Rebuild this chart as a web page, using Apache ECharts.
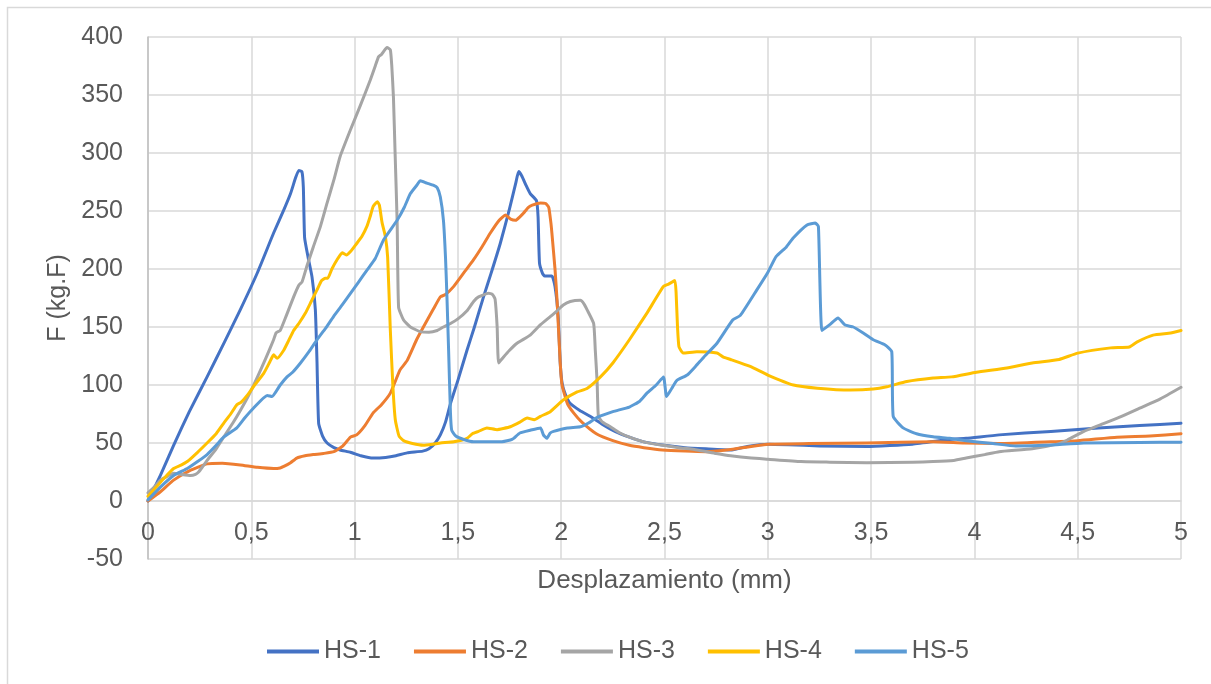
<!DOCTYPE html>
<html>
<head>
<meta charset="utf-8">
<script src="https://cdn.jsdelivr.net/npm/echarts@6/dist/echarts.min.js"></script>
<style>
  html, body { margin: 0; padding: 0; background: #fff; }
  #chart { width: 1211px; height: 684px; }
</style>
</head>
<body>
<div id="chart"></div>
<script>
// Load–displacement curves of five specimens: [displacement (mm), force (kg.F)]
const seriesNames = ['HS-1', 'HS-2', 'HS-3', 'HS-4', 'HS-5'];
const seriesColors = ['#4472C4', '#ED7D31', '#A5A5A5', '#FFC000', '#5B9BD5'];

const xTicks = [0, 0.5, 1, 1.5, 2, 2.5, 3, 3.5, 4, 4.5, 5];
const yTicks = [-50, 0, 50, 100, 150, 200, 250, 300, 350, 400];

const hs1 = [
  [0,0],[0.06,22],[0.124,48],[0.2,77],[0.286,107],[0.37,137],[0.447,165],[0.53,197],
  [0.608,231],[0.66,252],[0.69,265],[0.715,279],[0.73,285],[0.745,284],[0.752,270],
  [0.758,227],[0.775,210],[0.794,193],[0.81,165],[0.818,120],[0.826,67],[0.845,56],
  [0.867,50],[0.9,46],[0.93,44],[0.98,42],[1.03,39],[1.09,37],[1.15,37.5],[1.2,39],
  [1.254,41.5],[1.33,43],[1.36,45],[1.39,50],[1.415,57],[1.44,68],[1.464,84],[1.5,104],
  [1.544,130],[1.58,150],[1.624,176],[1.66,196],[1.705,222],[1.75,252],[1.78,274],
  [1.794,284],[1.81,280],[1.83,272],[1.85,265],[1.88,259],[1.888,245],[1.895,205],
  [1.91,196],[1.92,194],[1.955,194],[1.97,185],[1.985,160],[1.995,120],[2.004,102],
  [2.02,92],[2.044,84],[2.09,78],[2.14,73],[2.2,66],[2.26,60],[2.33,55],[2.4,51],
  [2.5,48],[2.6,46],[2.7,45],[2.82,44],[2.9,47],[3.0,49],[3.1,48.5],[3.25,47.5],
  [3.48,47],[3.7,49],[3.88,53],[3.96,54],[4.12,57],[4.37,60],[4.6,63],[4.8,65],[5,67]
];

const hs2 = [
  [0,0],[0.06,8],[0.124,18],[0.2,26],[0.286,32],[0.36,32.5],[0.447,31],[0.53,29],
  [0.608,28],[0.64,28.5],[0.66,30],[0.69,33],[0.72,37],[0.76,39],[0.8,40],[0.85,41],
  [0.9,42.5],[0.94,47],[0.98,55],[1.01,57],[1.05,65],[1.09,76],[1.13,83],[1.173,93],
  [1.22,113],[1.254,121],[1.3,139],[1.333,150],[1.38,165],[1.415,176],[1.44,178],
  [1.48,185],[1.53,197],[1.576,208],[1.62,220],[1.657,231],[1.7,242],[1.73,246.5],
  [1.755,243],[1.78,242],[1.8,245],[1.817,248],[1.84,253],[1.86,255],[1.9,257],
  [1.925,256.5],[1.94,253],[1.95,240],[1.955,231],[1.97,200],[1.98,173],[1.995,120],
  [2.004,100],[2.03,84],[2.06,76],[2.1,68],[2.17,58],[2.25,52],[2.33,48],[2.4,46],
  [2.49,44],[2.6,43],[2.7,42.5],[2.8,44],[2.92,47],[3.0,49],[3.2,49.5],[3.48,50],
  [3.8,51],[3.95,50],[4.12,49.5],[4.37,51],[4.5,52],[4.69,55],[4.85,56],[5,58]
];

const hs3 = [
  [0,7],[0.03,12],[0.06,18],[0.1,22],[0.124,24],[0.16,23],[0.206,22],[0.23,23],
  [0.245,25],[0.266,30],[0.286,35],[0.33,45],[0.366,55],[0.41,67],[0.447,78],[0.49,92],
  [0.53,107],[0.57,123],[0.608,139],[0.62,145],[0.64,147],[0.67,160],[0.705,176],
  [0.73,186],[0.746,189],[0.77,203],[0.8,219],[0.835,237],[0.867,257],[0.9,277],
  [0.93,297],[0.98,320],[1.028,341],[1.076,363],[1.1,375],[1.116,383],[1.13,385],
  [1.157,391],[1.173,389],[1.18,375],[1.188,348],[1.196,300],[1.206,240],[1.213,167],
  [1.237,156],[1.27,150],[1.318,146],[1.36,145.5],[1.4,147],[1.43,150],[1.464,153],
  [1.5,157],[1.544,164],[1.576,172],[1.6,176],[1.648,179],[1.668,178],[1.68,174],
  [1.69,150],[1.697,119],[1.72,124],[1.75,130],[1.786,136],[1.85,143],[1.9,152],
  [1.947,159],[1.98,164],[2.01,169],[2.044,172],[2.093,173],[2.11,170],[2.125,165],
  [2.157,153],[2.165,130],[2.174,102],[2.18,73],[2.2,68],[2.238,64],[2.28,59],[2.33,55],
  [2.4,51],[2.49,48],[2.57,46],[2.657,44],[2.75,41],[2.82,39],[2.92,37],[3.0,36],
  [3.16,34],[3.3,33.5],[3.48,33],[3.7,33.5],[3.8,34],[3.9,35],[3.96,37],[4.05,40],
  [4.12,42.5],[4.28,45],[4.4,49],[4.45,52.6],[4.53,60],[4.6,65],[4.7,72],[4.8,80],
  [4.9,88],[5,98]
];

const hs4 = [
  [0,4],[0.04,12],[0.08,20],[0.124,28],[0.16,31],[0.19,34],[0.24,42],[0.286,50],
  [0.33,58],[0.366,67],[0.4,75],[0.43,83],[0.45,85],[0.48,91],[0.51,98.5],[0.56,110],
  [0.59,120],[0.608,126],[0.625,123],[0.657,130],[0.68,138],[0.705,147],[0.73,153],
  [0.762,162],[0.79,172],[0.818,182],[0.84,190],[0.858,192],[0.87,192],[0.89,200],
  [0.915,208],[0.94,214],[0.96,212],[0.98,215],[1.01,222],[1.035,228],[1.06,237],
  [1.075,245],[1.09,254],[1.11,258],[1.12,255],[1.133,240],[1.149,228],[1.16,210],
  [1.173,147],[1.185,100],[1.197,70],[1.215,56],[1.237,52],[1.28,49.5],[1.333,48],
  [1.38,49],[1.415,50],[1.48,51],[1.544,54],[1.57,58],[1.6,60],[1.64,63],[1.69,61.5],
  [1.72,62.5],[1.754,64],[1.8,68],[1.835,71.5],[1.87,70],[1.9,73],[1.947,77],[2.01,87],
  [2.077,94],[2.125,97],[2.19,107],[2.25,119],[2.33,139],[2.415,162],[2.495,185],
  [2.52,187],[2.55,190],[2.556,180],[2.563,150],[2.57,133],[2.59,127.6],[2.657,128.7],
  [2.754,127.6],[2.785,124],[2.82,122],[2.915,116],[3.0,108.6],[3.124,100],[3.24,97.3],
  [3.4,95.7],[3.51,96.5],[3.576,98.5],[3.673,103],[3.8,106],[3.89,107],[4.01,111],
  [4.157,114.6],[4.28,119],[4.41,122],[4.5,127.5],[4.66,132],[4.75,132.8],[4.786,137],
  [4.865,143],[4.95,144.8],[5,147]
];

const hs5 = [
  [0,1],[0.06,12],[0.124,22],[0.19,28],[0.24,34],[0.286,40],[0.33,48],[0.366,55],
  [0.43,63],[0.47,72],[0.51,80],[0.577,91],[0.6,90],[0.64,100],[0.673,107],[0.7,111],
  [0.738,119],[0.78,129],[0.818,139],[0.86,149],[0.898,159],[0.94,169],[0.98,179],
  [1.02,189],[1.06,199],[1.1,209],[1.14,225],[1.206,242],[1.24,253],[1.27,265],
  [1.3,272],[1.318,276],[1.35,274],[1.383,272],[1.4,270],[1.415,262],[1.43,242],
  [1.44,210],[1.447,176],[1.455,130],[1.464,76],[1.47,61],[1.49,56],[1.528,53],
  [1.576,51],[1.61,51],[1.705,51],[1.754,52.6],[1.77,54],[1.8,58.6],[1.85,61],[1.9,63],
  [1.914,57],[1.93,54],[1.947,58.6],[1.963,60],[2.03,63],[2.093,64],[2.13,67],
  [2.174,72],[2.25,77],[2.33,81],[2.38,86],[2.415,93],[2.46,100],[2.495,107],[2.51,90],
  [2.535,97],[2.56,104],[2.61,108.6],[2.65,116],[2.69,124],[2.754,136],[2.83,156],
  [2.867,160],[2.947,182],[3.0,197],[3.04,210.6],[3.09,219],[3.124,227],[3.19,238],
  [3.23,239.6],[3.245,236.5],[3.262,147],[3.3,152],[3.34,157.8],[3.374,151.7],
  [3.414,150],[3.46,145],[3.51,139],[3.568,134.5],[3.6,128.7],[3.607,73],[3.655,63],
  [3.72,58],[3.8,55.4],[3.88,54],[3.96,52],[4.09,49.5],[4.2,47.4],[4.35,48],[4.53,50],
  [4.8,50.5],[5,50.6]
];

const seriesData = [hs1, hs2, hs3, hs4, hs5];

const FONT = "'Liberation Sans', Arial, sans-serif";
const TEXT = '#595959';
const GRID = '#D9D9D9';

// plot box: 37..559 px tall, nine 50-unit bands -> 58 px per band
const PLOT_TOP = 37, PLOT_BOTTOM = 559;
const bandPx = (PLOT_BOTTOM - PLOT_TOP) / (yTicks.length - 1);
// the horizontal axis sits on F = 0, one band above the bottom edge
const zeroOffset = -bandPx * (0 - yTicks[0]) / 50;

const chart = echarts.init(document.getElementById('chart'), null, { renderer: 'canvas' });

chart.setOption({
  backgroundColor: '#ffffff',
  animation: false,
  textStyle: { fontFamily: FONT },
  graphic: [{
    type: 'rect',
    silent: true,
    shape: { x: 7.5, y: 7.5, width: 1400, height: 900 },
    style: { fill: 'none', stroke: '#D9D9D9', lineWidth: 1.5 }
  }],
  grid: { left: 148, right: 30, top: PLOT_TOP, bottom: 684 - PLOT_BOTTOM, containLabel: false },
  legend: {
    data: seriesNames,
    left: 262,
    top: 634,
    icon: 'rect',
    itemWidth: 52,
    itemHeight: 4,
    itemGap: 33,
    textStyle: { fontFamily: FONT, fontSize: 25, color: TEXT }
  },
  xAxis: {
    type: 'value',
    min: xTicks[0],
    max: xTicks[xTicks.length - 1],
    interval: 0.5,
    position: 'bottom',
    offset: zeroOffset,
    name: 'Desplazamiento (mm)',
    nameLocation: 'middle',
    nameGap: 67,
    nameTextStyle: { fontFamily: FONT, fontSize: 26, color: TEXT },
    axisLine: { onZero: false, lineStyle: { color: GRID, width: 1.5 } },
    axisTick: { show: false },
    axisLabel: {
      fontFamily: FONT, fontSize: 25, color: TEXT, margin: 20,
      showMinLabel: true, showMaxLabel: true,
      formatter: v => String(v).replace('.', ',')
    },
    splitLine: { show: true, lineStyle: { color: GRID, width: 1.5 } }
  },
  yAxis: {
    type: 'value',
    min: yTicks[0],
    max: yTicks[yTicks.length - 1],
    interval: 50,
    name: 'F (kg.F)',
    nameLocation: 'middle',
    nameGap: 76,
    nameRotate: 90,
    nameTextStyle: { fontFamily: FONT, fontSize: 25, color: TEXT },
    axisLine: { show: true, onZero: false, lineStyle: { color: '#BFBFBF', width: 1.5 } },
    axisTick: { show: false },
    axisLabel: { fontFamily: FONT, fontSize: 25, color: TEXT, margin: 25 },
    splitLine: { show: true, lineStyle: { color: GRID, width: 1.5 } }
  },
  series: seriesNames.map((name, i) => ({
    name,
    type: 'line',
    data: seriesData[i],
    showSymbol: false,
    symbol: 'none',
    smooth: 0.15,
    color: seriesColors[i],
    lineStyle: { color: seriesColors[i], width: 3, cap: 'round', join: 'round' },
    z: 2 + i
  }))
});
</script>
</body>
</html>
